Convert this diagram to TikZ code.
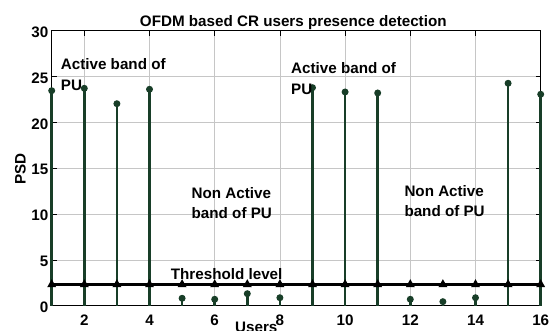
\documentclass[tikz,border=0pt]{standalone}
\usepackage{fontspec}
\setmainfont{Liberation Sans}
\definecolor{stemgreen}{RGB}{24,62,40}
\begin{document}
\begin{tikzpicture}[x=1pt,y=1pt,
  lbl/.style={font=\fontsize{15.2}{18}\selectfont\bfseries, inner sep=0pt},
  gridline/.style={draw=gray!45, line width=0.8pt},
  frame/.style={draw=black, line width=1.3pt},
  tickmark/.style={draw=black, line width=0.8pt},
  stemline/.style={draw=stemgreen, line width=2.6pt},
  thrline/.style={draw=black, line width=3pt}]
\useasboundingbox (0,0) rectangle (552,331);
\clip (0,0) rectangle (552,331);
\begin{scope}[xshift=19.1pt, yshift=25.2pt, x=32.6pt, y=9.173pt]
  % grid
  \foreach \u in {2,4,...,14} \draw[gridline] (\u,0) -- (\u,30);
  \foreach \v in {5,10,...,25} \draw[gridline] (1,\v) -- (16,\v);
  % ticks
  \foreach \u in {2,4,...,16} {
    \draw[tickmark] (\u,0) -- ++(0,5pt);
    \draw[tickmark] (\u,30) -- ++(0,-5pt);
  }
  \foreach \v in {0,5,...,30} {
    \draw[tickmark] (1,\v) -- ++(5pt,0);
    \draw[tickmark] (16,\v) -- ++(-5pt,0);
  }
  % frame
  \draw[frame] (1,0) rectangle (16,30);
  % stems
  \foreach \u/\v in {1/23.45,2/23.71,3/22.03,4/23.6,5/0.82,6/0.71,7/1.32,8/0.88,
                     9/23.78,10/23.31,11/23.2,12/0.71,13/0.45,14/0.88,15/24.26,16/23.06} {
    \draw[stemline] (\u,0) -- (\u,\v);
    \fill[stemgreen] (\u,\v) circle (3.5pt);
  }
  % threshold
  \draw[thrline] (1,2.3) -- (16,2.3);
  \foreach \u in {1,...,16}
    \fill[black, shift={(\u,2.3)}] (-4.5pt,-2.5pt) -- (4.5pt,-2.5pt) -- (0,5.5pt) -- cycle;
  % tick labels
  \foreach \u in {2,4,...,16}
    \node[lbl, anchor=north] (xt\u) at ([yshift=-9.2pt]\u,0) {\u};
  \foreach \v in {0,5,...,30}
    \node[lbl, anchor=east] (yt\v) at ([xshift=-3.2pt,yshift=-1.6pt]1,\v) {\v};
\end{scope}
\node[lbl, anchor=base] (title) at (293.3,304.3) {OFDM based CR users presence detection};
\node[lbl, anchor=base west] (act1) at (60.7,261) {Active band of};
\node[lbl, anchor=base west] (act1b) at (60.7,240.5) {PU};
\node[lbl, anchor=base west] (act2) at (291,257.7) {Active band of};
\node[lbl, anchor=base west] (act2b) at (291,236.7) {PU};
\node[lbl, anchor=base west] (non1) at (191.5,132.5) {Non Active};
\node[lbl, anchor=base west] (non1b) at (191.5,112.5) {band of PU};
\node[lbl, anchor=base west] (non2) at (404.3,134.3) {Non Active};
\node[lbl, anchor=base west] (non2b) at (404.3,114.3) {band of PU};
\node[lbl, anchor=base west] (thr) at (170.7,51.7) {Threshold level};
\node[lbl, anchor=base west] (users) at (235,-1.7) {Users};
\node[lbl, anchor=base, rotate=90] (psd) at (25.5,162) {PSD};
\end{tikzpicture}
\end{document}
